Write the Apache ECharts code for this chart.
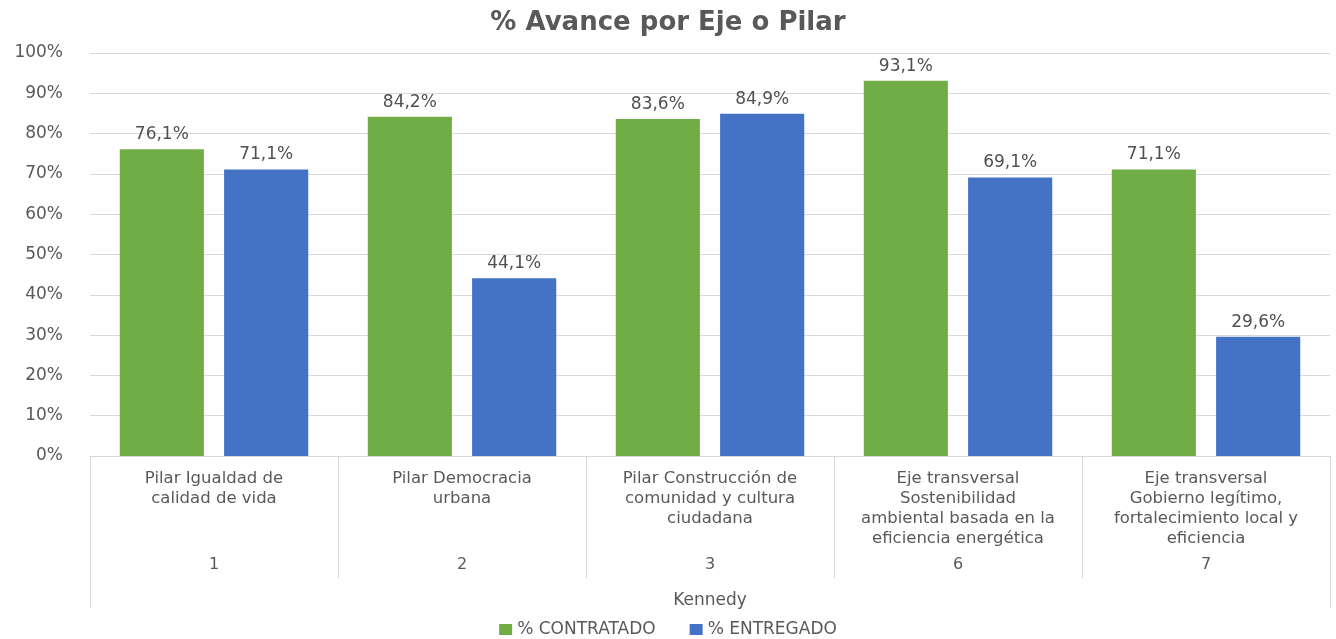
<!DOCTYPE html>
<html>
<head>
<meta charset="utf-8">
<script src="https://cdn.jsdelivr.net/npm/echarts@6/dist/echarts.min.js"></script>
<style>
html,body{margin:0;padding:0;background:#fff;}
#chart{width:1336px;height:639px;}
</style>
</head>
<body>
<div id="chart"></div>
<script>
const titleText = '% Avance por Eje o Pilar';
const categories = [
  'Pilar Igualdad de\ncalidad de vida',
  'Pilar Democracia\nurbana',
  'Pilar Construcción de\ncomunidad y cultura\nciudadana',
  'Eje transversal\nSostenibilidad\nambiental basada en la\neficiencia energética',
  'Eje transversal\nGobierno legítimo,\nfortalecimiento local y\neficiencia'
];
const categoryNumbers = ['1', '2', '3', '6', '7'];
const groupName = ['Kennedy'];
const contratado = [76.1, 84.2, 83.6, 93.1, 71.1];
const entregado = [71.1, 44.1, 84.9, 69.1, 29.6];
const seriesNames = ['% CONTRATADO', '% ENTREGADO'];

const FONT = 'DejaVu Sans';
const TXT = '#595959';
const LINE = '#d9d9d9';

const fmt = v => v.toFixed(1).replace('.', ',') + '%';

const chart = echarts.init(document.getElementById('chart'));
chart.setOption({
  animation: false,
  textStyle: { fontFamily: FONT },
  title: {
    text: titleText,
    left: 'center',
    top: 5,
    textStyle: { fontFamily: FONT, fontSize: 26, fontWeight: 'bold', color: TXT }
  },
  legend: {
    top: 616,
    left: 'center',
    itemWidth: 13,
    itemHeight: 11,
    itemGap: 34,
    icon: 'rect',
    textStyle: { fontFamily: FONT, fontSize: 17, color: TXT },
    data: seriesNames
  },
  grid: { left: 90, right: 6, top: 53, bottom: 183 },
  xAxis: [
    {
      type: 'category',
      position: 'bottom',
      data: categories,
      axisLine: { show: true, lineStyle: { color: LINE } },
      axisTick: { show: true, length: 122, lineStyle: { color: LINE } },
      axisLabel: { margin: 13, fontSize: 16.5, lineHeight: 20, color: TXT, fontFamily: FONT, interval: 0 }
    },
    {
      type: 'category',
      position: 'bottom',
      data: categoryNumbers,
      axisLine: { show: false },
      axisTick: { show: false },
      axisLabel: { margin: 101, fontSize: 16, color: TXT, fontFamily: FONT, interval: 0 }
    },
    {
      type: 'category',
      position: 'bottom',
      data: groupName,
      axisLine: { show: false },
      axisTick: { show: true, length: 152, lineStyle: { color: LINE } },
      axisLabel: { margin: 136, fontSize: 17, color: TXT, fontFamily: FONT }
    }
  ],
  yAxis: {
    type: 'value',
    min: 0,
    max: 100,
    interval: 10,
    axisLine: { show: false },
    axisTick: { show: false },
    splitLine: { lineStyle: { color: LINE } },
    axisLabel: { formatter: '{value}%', margin: 27, fontSize: 17, color: TXT, fontFamily: FONT }
  },
  series: [
    {
      name: seriesNames[0],
      type: 'bar',
      xAxisIndex: 0,
      data: contratado,
      barGap: '24%',
      barCategoryGap: '24%',
      itemStyle: { color: '#70AD47' },
      label: { show: true, position: 'top', distance: 6, formatter: p => fmt(p.value), fontSize: 17, color: '#505050', fontFamily: FONT }
    },
    {
      name: seriesNames[1],
      type: 'bar',
      xAxisIndex: 0,
      data: entregado,
      barGap: '24%',
      barCategoryGap: '24%',
      itemStyle: { color: '#4472C4' },
      label: { show: true, position: 'top', distance: 6, formatter: p => fmt(p.value), fontSize: 17, color: '#505050', fontFamily: FONT }
    }
  ]
});
</script>
</body>
</html>
